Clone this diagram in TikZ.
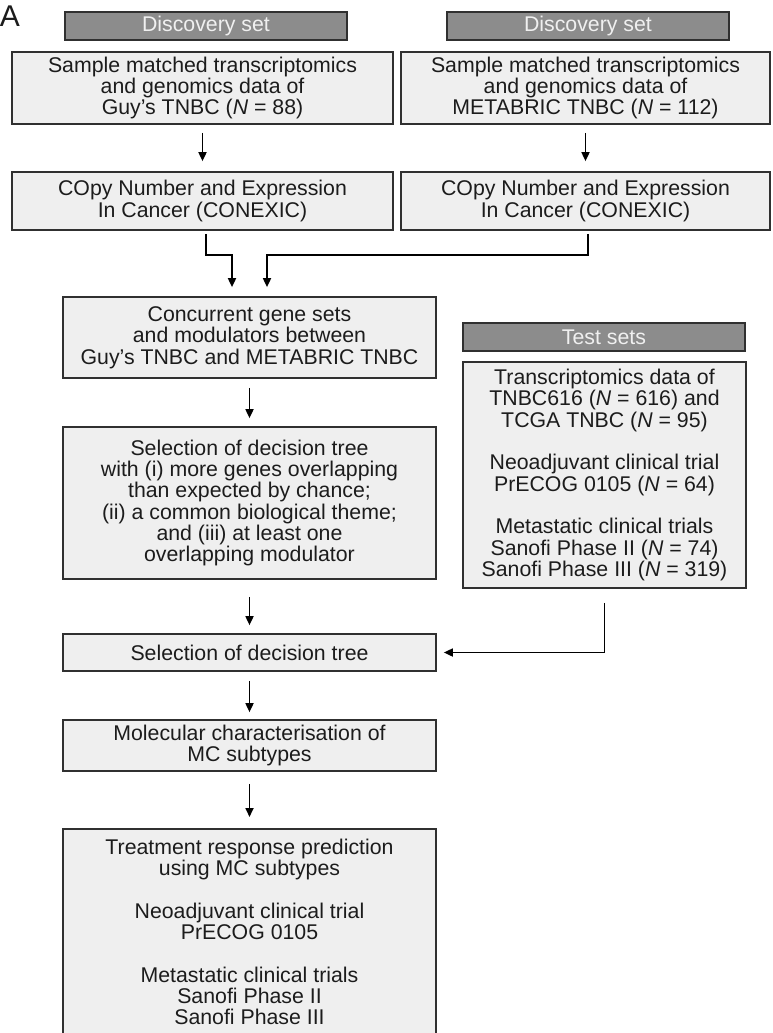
\documentclass[tikz,border=0pt]{standalone}
\usepackage{fontspec}
\setmainfont{Liberation Sans}
\usepackage{tikz}
\usetikzlibrary{arrows.meta}

\definecolor{boxfill}{HTML}{EFEFEF}
\definecolor{headfill}{HTML}{8C8C8C}
\definecolor{ink}{HTML}{1C1C1C}
\definecolor{rim}{HTML}{303030}

\begin{document}
\begin{tikzpicture}[x=1pt, y=-1pt, >={Triangle[length=9pt,width=8pt]}]
        \tikzstyle{every node} = [rectangle, font=\fontsize{21.3}{21.3}\selectfont, text=ink, align=center, inner sep=0pt]
        \tikzstyle{box} = [draw=rim, line width=1.7pt, fill=boxfill]
        \tikzstyle{head} = [draw=rim, line width=1.7pt, fill=headfill, text=white!94!black, minimum width=282pt, minimum height=28pt]
        \tikzstyle{flow} = [->, line width=1.7pt, draw=black]
        \useasboundingbox (0,0) rectangle (772,1033);
        \clip (0,0) rectangle (772,1033);

        \node (label) at (10,16) {\fontsize{30}{30}\selectfont A};
        \node[head] (disc1) at (206,26) {Discovery set};
        \node[head] (disc2) at (588,26) {Discovery set};
        \node[box, minimum width=381pt, minimum height=72pt] (guy) at (202.5,88) {Sample matched transcriptomics\\and genomics data of\\Guy’s TNBC (\textit{N} = 88)};
        \node[box, minimum width=369pt, minimum height=72pt] (meta) at (585.5,88) {Sample matched transcriptomics\\and genomics data of\\METABRIC TNBC (\textit{N} = 112)};
        \node[box, minimum width=381pt, minimum height=58pt] (con1) at (202.5,201) {COpy Number and Expression\\In Cancer (CONEXIC)};
        \node[box, minimum width=369pt, minimum height=58pt] (con2) at (585.5,201) {COpy Number and Expression\\In Cancer (CONEXIC)};
        \node[box, minimum width=373pt, minimum height=81pt] (conc) at (249.5,337.5) {Concurrent gene sets\\and modulators between\\Guy’s TNBC and METABRIC TNBC};
        \node[head] (test) at (604,337) {Test sets};
        \node[box, minimum width=283pt, minimum height=226pt] (sets) at (604.5,475) {Transcriptomics data of\\TNBC616 (\textit{N} = 616) and\\TCGA TNBC (\textit{N} = 95)\\[21.3pt]Neoadjuvant clinical trial\\PrECOG 0105 (\textit{N} = 64)\\[21.3pt]Metastatic clinical trials\\Sanofi Phase II (\textit{N} = 74)\\Sanofi Phase III (\textit{N} = 319)};
        \node[box, minimum width=373pt, minimum height=152pt] (tree) at (249.5,503) {Selection of decision tree\\with (i) more genes overlapping\\than expected by chance;\\(ii) a common biological theme;\\and (iii) at least one\\overlapping modulator};
        \node[box, minimum width=373pt, minimum height=37pt] (sel) at (249.5,652.5) {Selection of decision tree};
        \node[box, minimum width=373pt, minimum height=51pt] (mol) at (249.5,745.5) {Molecular characterisation of\\MC subtypes};
        \node[box, minimum width=373pt, anchor=north, inner ysep=10pt] (treat) at (249.5,828) {Treatment response prediction\\using MC subtypes\\[21.3pt]Neoadjuvant clinical trial\\PrECOG 0105\\[21.3pt]Metastatic clinical trials\\Sanofi Phase II\\Sanofi Phase III\rule[-20pt]{0pt}{20pt}};

        \foreach \from/\to/\a/\b in {guy/con1/8pt/10pt, meta/con2/8pt/10pt, conc/tree/9pt/8pt, tree/sel/17pt/8pt, sel/mol/9pt/7pt, mol/treat/12pt/11pt}
            \draw[flow, shorten <=\a, shorten >=\b] (\from) -- (\to);

        \draw[flow] ([xshift=3.5pt,yshift=-3pt]con1.south) -- ++(0,21) -| ([xshift=-17.5pt,yshift=9pt]conc.north);
        \draw[flow] ([xshift=2.5pt,yshift=-3pt]con2.south) -- ++(0,21) -| ([xshift=17.5pt,yshift=9pt]conc.north);
        \draw[flow] ([yshift=-14pt]sets.south) |- ([xshift=7pt]sel.east);
\end{tikzpicture}
\end{document}
